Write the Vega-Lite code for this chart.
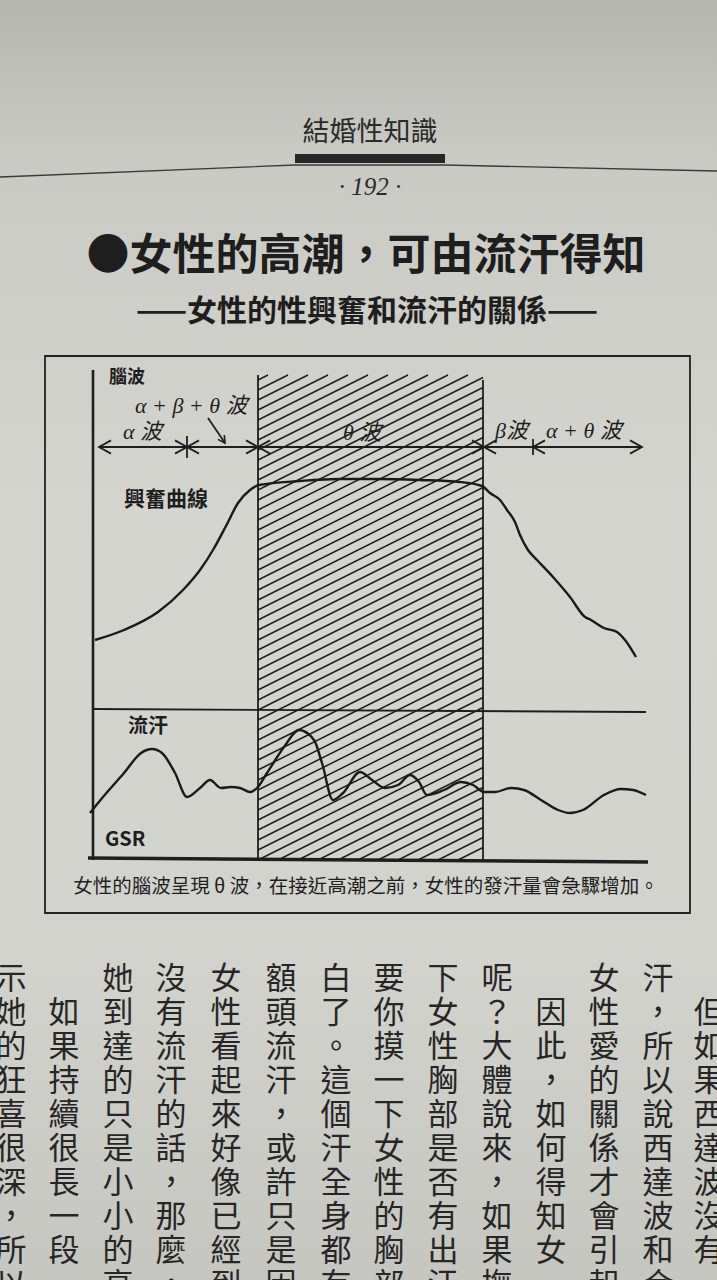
{
  "$schema": "https://vega.github.io/schema/vega-lite/v6.json",
  "width": 717,
  "height": 1280,
  "autosize": "none",
  "padding": 0,
  "background": "#cfcfca",
  "config": {"view": {"stroke": null}},
  "datasets": {
    "bg": [{"t": -18.6, "L": -84, "t2": 124.8, "L2": 172}],
    "hline": [
      {"t": -18.6, "L": 136.6}, {"t": 40.4, "L": 139}, {"t": 70.4, "L": 139}, {"t": 124.8, "L": 137.8}
    ],
    "hbar": [{"t": 40.4, "L": 141.2, "t2": 70.4, "L2": 139.4}],
    "frame": [{"t": -9.6, "L": 100.8, "t2": 119.4, "L2": -10.6}],
    "hatch": [
      {"t": 73, "L": 0, "t2": 78, "L2": 2.5}, {"t": 69, "L": 0, "t2": 78, "L2": 4.5},
      {"t": 65, "L": 0, "t2": 78, "L2": 6.5}, {"t": 61, "L": 0, "t2": 78, "L2": 8.5},
      {"t": 57, "L": 0, "t2": 78, "L2": 10.5}, {"t": 53, "L": 0, "t2": 78, "L2": 12.5},
      {"t": 49, "L": 0, "t2": 78, "L2": 14.5}, {"t": 45, "L": 0, "t2": 78, "L2": 16.5},
      {"t": 41, "L": 0, "t2": 78, "L2": 18.5}, {"t": 37, "L": 0, "t2": 78, "L2": 20.5},
      {"t": 33, "L": 0, "t2": 78, "L2": 22.5}, {"t": 33, "L": 2, "t2": 78, "L2": 24.5},
      {"t": 33, "L": 4, "t2": 78, "L2": 26.5}, {"t": 33, "L": 6, "t2": 78, "L2": 28.5},
      {"t": 33, "L": 8, "t2": 78, "L2": 30.5}, {"t": 33, "L": 10, "t2": 78, "L2": 32.5},
      {"t": 33, "L": 12, "t2": 78, "L2": 34.5}, {"t": 33, "L": 14, "t2": 78, "L2": 36.5},
      {"t": 33, "L": 16, "t2": 78, "L2": 38.5}, {"t": 33, "L": 18, "t2": 78, "L2": 40.5},
      {"t": 33, "L": 20, "t2": 78, "L2": 42.5}, {"t": 33, "L": 22, "t2": 78, "L2": 44.5},
      {"t": 33, "L": 24, "t2": 78, "L2": 46.5}, {"t": 33, "L": 26, "t2": 78, "L2": 48.5},
      {"t": 33, "L": 28, "t2": 78, "L2": 50.5}, {"t": 33, "L": 30, "t2": 78, "L2": 52.5},
      {"t": 33, "L": 32, "t2": 78, "L2": 54.5}, {"t": 33, "L": 34, "t2": 78, "L2": 56.5},
      {"t": 33, "L": 36, "t2": 78, "L2": 58.5}, {"t": 33, "L": 38, "t2": 78, "L2": 60.5},
      {"t": 33, "L": 40, "t2": 78, "L2": 62.5}, {"t": 33, "L": 42, "t2": 78, "L2": 64.5},
      {"t": 33, "L": 44, "t2": 78, "L2": 66.5}, {"t": 33, "L": 46, "t2": 78, "L2": 68.5},
      {"t": 33, "L": 48, "t2": 78, "L2": 70.5}, {"t": 33, "L": 50, "t2": 78, "L2": 72.5},
      {"t": 33, "L": 52, "t2": 78, "L2": 74.5}, {"t": 33, "L": 54, "t2": 78, "L2": 76.5},
      {"t": 33, "L": 56, "t2": 78, "L2": 78.5}, {"t": 33, "L": 58, "t2": 78, "L2": 80.5},
      {"t": 33, "L": 60, "t2": 78, "L2": 82.5}, {"t": 33, "L": 62, "t2": 78, "L2": 84.5},
      {"t": 33, "L": 64, "t2": 78, "L2": 86.5}, {"t": 33, "L": 66, "t2": 78, "L2": 88.5},
      {"t": 33, "L": 68, "t2": 78, "L2": 90.5}, {"t": 33, "L": 70, "t2": 78, "L2": 92.5},
      {"t": 33, "L": 72, "t2": 78, "L2": 94.5}, {"t": 33, "L": 74, "t2": 78, "L2": 96.5},
      {"t": 33, "L": 76, "t2": 75, "L2": 97}, {"t": 33, "L": 78, "t2": 71, "L2": 97},
      {"t": 33, "L": 80, "t2": 67, "L2": 97}, {"t": 33, "L": 82, "t2": 63, "L2": 97},
      {"t": 33, "L": 84, "t2": 59, "L2": 97}, {"t": 33, "L": 86, "t2": 55, "L2": 97},
      {"t": 33, "L": 88, "t2": 51, "L2": 97}, {"t": 33, "L": 90, "t2": 47, "L2": 97},
      {"t": 33, "L": 92, "t2": 43, "L2": 97}, {"t": 33, "L": 94, "t2": 39, "L2": 97},
      {"t": 33, "L": 96, "t2": 35, "L2": 97}
    ],
    "thin": [
      {"t": 33, "L": 0, "t2": 33, "L2": 97},
      {"t": 78, "L": 0, "t2": 78, "L2": 96},
      {"t": 0, "L": 30.2, "t2": 110.6, "L2": 29.6},
      {"t": 1.2, "L": 82.6, "t2": 109.8, "L2": 82.6},
      {"t": 18.8, "L": 80.4, "t2": 18.8, "L2": 84.8},
      {"t": 88, "L": 81, "t2": 88, "L2": 84.2},
      {"t": 23, "L": 88.4, "t2": 26.4, "L2": 83.4}
    ],
    "yaxis": [{"t": 0, "L": 0, "t2": 0, "L2": 98}],
    "baseline": [{"t": -1, "L": 0.4, "t2": 111, "L2": -0.4}],
    "arrows": [
      {"t": 1.2, "L": 82.6, "dir": "L"},
      {"t": 18.8, "L": 82.6, "dir": "R"}, {"t": 18.8, "L": 82.6, "dir": "L"},
      {"t": 33, "L": 82.6, "dir": "R"}, {"t": 33, "L": 82.6, "dir": "L"},
      {"t": 78.2, "L": 82.6, "dir": "R"}, {"t": 78.2, "L": 82.6, "dir": "L"},
      {"t": 88, "L": 82.6, "dir": "L"},
      {"t": 109.8, "L": 82.6, "dir": "R"}
    ],
    "pointer": [{"t": 26.4, "L": 83.4, "dir": "R"}],
    "curves": [
      {"series": "興奮曲線", "t": 0.4, "L": 44}, {"series": "興奮曲線", "t": 6.2, "L": 46},
      {"series": "興奮曲線", "t": 13, "L": 49.6}, {"series": "興奮曲線", "t": 18, "L": 54},
      {"series": "興奮曲線", "t": 21.4, "L": 58}, {"series": "興奮曲線", "t": 24, "L": 62},
      {"series": "興奮曲線", "t": 26.6, "L": 66.8}, {"series": "興奮曲線", "t": 29, "L": 71.4},
      {"series": "興奮曲線", "t": 31.4, "L": 74}, {"series": "興奮曲線", "t": 33.2, "L": 75},
      {"series": "興奮曲線", "t": 41.4, "L": 75.8}, {"series": "興奮曲線", "t": 49.4, "L": 76.2},
      {"series": "興奮曲線", "t": 56.8, "L": 76.2}, {"series": "興奮曲線", "t": 65.4, "L": 76},
      {"series": "興奮曲線", "t": 73.4, "L": 75.6}, {"series": "興奮曲線", "t": 77.8, "L": 74.8},
      {"series": "興奮曲線", "t": 79.4, "L": 73.4}, {"series": "興奮曲線", "t": 81.4, "L": 72},
      {"series": "興奮曲線", "t": 82.8, "L": 70}, {"series": "興奮曲線", "t": 84.4, "L": 67.6},
      {"series": "興奮曲線", "t": 85.4, "L": 65}, {"series": "興奮曲線", "t": 87, "L": 62},
      {"series": "興奮曲線", "t": 88.8, "L": 60}, {"series": "興奮曲線", "t": 92, "L": 56.6},
      {"series": "興奮曲線", "t": 95.4, "L": 52.6}, {"series": "興奮曲線", "t": 98.4, "L": 48.6},
      {"series": "興奮曲線", "t": 99.6, "L": 48}, {"series": "興奮曲線", "t": 102.2, "L": 46.4},
      {"series": "興奮曲線", "t": 104.8, "L": 45.6}, {"series": "興奮曲線", "t": 106.4, "L": 44},
      {"series": "興奮曲線", "t": 108.6, "L": 40.6},
      {"series": "GSR", "t": -0.6, "L": 9.4}, {"series": "GSR", "t": 2, "L": 12.6},
      {"series": "GSR", "t": 6.2, "L": 17.4}, {"series": "GSR", "t": 9.6, "L": 21.4},
      {"series": "GSR", "t": 11.8, "L": 22.2}, {"series": "GSR", "t": 13.8, "L": 21.4},
      {"series": "GSR", "t": 16.4, "L": 17.4}, {"series": "GSR", "t": 18.8, "L": 12.6},
      {"series": "GSR", "t": 21.4, "L": 14.4}, {"series": "GSR", "t": 23.4, "L": 16},
      {"series": "GSR", "t": 25.6, "L": 14.4}, {"series": "GSR", "t": 27.6, "L": 14.6},
      {"series": "GSR", "t": 29.4, "L": 14.4}, {"series": "GSR", "t": 31.4, "L": 13.6},
      {"series": "GSR", "t": 32.8, "L": 14.4}, {"series": "GSR", "t": 34.8, "L": 17.4},
      {"series": "GSR", "t": 38.2, "L": 22.6}, {"series": "GSR", "t": 41.2, "L": 26},
      {"series": "GSR", "t": 44.2, "L": 24}, {"series": "GSR", "t": 45.8, "L": 19.4},
      {"series": "GSR", "t": 48, "L": 12}, {"series": "GSR", "t": 50, "L": 13.4},
      {"series": "GSR", "t": 53.4, "L": 17.6}, {"series": "GSR", "t": 55.8, "L": 16},
      {"series": "GSR", "t": 58.4, "L": 14.4}, {"series": "GSR", "t": 61, "L": 15},
      {"series": "GSR", "t": 63.4, "L": 17}, {"series": "GSR", "t": 65.2, "L": 15.6},
      {"series": "GSR", "t": 66.8, "L": 13}, {"series": "GSR", "t": 70.2, "L": 14},
      {"series": "GSR", "t": 73.6, "L": 15.6}, {"series": "GSR", "t": 76, "L": 15},
      {"series": "GSR", "t": 78.2, "L": 13.6}, {"series": "GSR", "t": 80.4, "L": 13.6},
      {"series": "GSR", "t": 83.6, "L": 14.4}, {"series": "GSR", "t": 86.2, "L": 14},
      {"series": "GSR", "t": 89.6, "L": 12}, {"series": "GSR", "t": 93, "L": 10},
      {"series": "GSR", "t": 95.4, "L": 9.4}, {"series": "GSR", "t": 98, "L": 10},
      {"series": "GSR", "t": 102.2, "L": 13}, {"series": "GSR", "t": 105.6, "L": 14.2},
      {"series": "GSR", "t": 108, "L": 14}, {"series": "GSR", "t": 110.6, "L": 13}
    ],
    "boldLabels": [
      {"t": 3.2, "L": 96.4, "s": "腦波", "k": "small"},
      {"t": 6.2, "L": 72, "s": "興奮曲線", "k": "big"},
      {"t": 7, "L": 26.6, "s": "流汗", "k": "mid"},
      {"t": 2.4, "L": 4, "s": "GSR", "k": "mid"}
    ],
    "waveLabels": [
      {"t": 8.4, "L": 90.8, "s": "α + β + θ 波"},
      {"t": 6, "L": 85.6, "s": "α 波"},
      {"t": 50, "L": 85.4, "s": "θ 波"},
      {"t": 80.4, "L": 85.8, "s": "β波"},
      {"t": 90.6, "L": 85.8, "s": "α + θ 波"}
    ],
    "caption": [{"t": 54.6, "L": -5.4, "s": "女性的腦波呈現 θ 波，在接近高潮之前，女性的發汗量會急驟增加。"}],
    "runhead": [{"t": 55.4, "L": 145.4, "s": "結婚性知識"}],
    "folio": [{"t": 55.4, "L": 134.6, "s": "· 192 ·"}],
    "title": [{"t": 54.6, "L": 120.6, "s": "●女性的高潮，可由流汗得知"}],
    "subtitle": [{"t": 54.8, "L": 109.6, "s": "——女性的性興奮和流汗的關係——"}],
    "body": [
      {"t": 123.2, "L": -21, "s": "　\n　\n但\n如\n果\n西\n達\n波\n沒\n有"},
      {"t": 113, "L": -21, "s": "汗\n，\n所\n以\n說\n西\n達\n波\n和\n合"},
      {"t": 102.2, "L": -21, "s": "女\n性\n愛\n的\n關\n係\n才\n會\n引\n起"},
      {"t": 91.6, "L": -21, "s": "　\n　\n因\n此\n，\n如\n何\n得\n知\n女"},
      {"t": 80.8, "L": -21, "s": "呢\n？\n大\n體\n說\n來\n，\n如\n果\n撫"},
      {"t": 70, "L": -21, "s": "下\n女\n性\n胸\n部\n是\n否\n有\n出\n汗"},
      {"t": 59.2, "L": -21, "s": "要\n你\n摸\n一\n下\n女\n性\n的\n胸\n部"},
      {"t": 48.6, "L": -21, "s": "白\n了\n。\n這\n個\n汗\n全\n身\n都\n有"},
      {"t": 37.6, "L": -21, "s": "額\n頭\n流\n汗\n，\n或\n許\n只\n是\n因"},
      {"t": 26.6, "L": -21, "s": "女\n性\n看\n起\n來\n好\n像\n已\n經\n到"},
      {"t": 15.6, "L": -21, "s": "沒\n有\n流\n汗\n的\n話\n，\n那\n麼\n，"},
      {"t": 5, "L": -21, "s": "她\n到\n達\n的\n只\n是\n小\n小\n的\n高"},
      {"t": -5.8, "L": -21, "s": "　\n　\n如\n果\n持\n續\n很\n長\n一\n段"},
      {"t": -16.4, "L": -21, "s": "示\n她\n的\n狂\n喜\n很\n深\n，\n所\n以"}
    ]
  },
  "encoding": {
    "x": {"field": "t", "type": "quantitative", "scale": {"domain": [-18.6, 124.8], "nice": false, "zero": false}, "axis": null},
    "y": {"field": "L", "type": "quantitative", "scale": {"domain": [-84, 172], "nice": false, "zero": false}, "axis": null}
  },
  "layer": [
    {
      "data": {"name": "bg"},
      "mark": {"type": "rect", "clip": true, "color": {"gradient": "linear", "x1": 0, "y1": 0, "x2": 0, "y2": 1,
        "stops": [
          {"offset": 0, "color": "#b6b6b0"}, {"offset": 0.12, "color": "#cacac5"},
          {"offset": 0.4, "color": "#d5d5d0"}, {"offset": 0.75, "color": "#d3d3ce"},
          {"offset": 1, "color": "#c6c6c0"}]}},
      "encoding": {"x2": {"field": "t2"}, "y2": {"field": "L2"}}
    },
    {
      "data": {"name": "hline"},
      "mark": {"type": "line", "clip": true, "color": "#3a3a3a", "strokeWidth": 1.4},
      "encoding": {}
    },
    {
      "data": {"name": "hbar"},
      "mark": {"type": "rect", "color": "#262626"},
      "encoding": {"x2": {"field": "t2"}, "y2": {"field": "L2"}}
    },
    {
      "data": {"name": "runhead"},
      "mark": {"type": "text", "font": "Noto Sans CJK TC", "fontSize": 27, "color": "#2a2a2a", "align": "center", "baseline": "middle"},
      "encoding": {"text": {"field": "s"}}
    },
    {
      "data": {"name": "folio"},
      "mark": {"type": "text", "font": "Liberation Serif", "fontStyle": "italic", "fontSize": 25, "color": "#2a2a2a", "align": "center", "baseline": "middle"},
      "encoding": {"text": {"field": "s"}}
    },
    {
      "data": {"name": "title"},
      "mark": {"type": "text", "font": "Noto Sans CJK TC", "fontWeight": "bold", "fontSize": 43, "color": "#1e1e1e", "align": "center", "baseline": "middle"},
      "encoding": {"text": {"field": "s"}}
    },
    {
      "data": {"name": "subtitle"},
      "mark": {"type": "text", "font": "Noto Sans CJK TC", "fontWeight": "bold", "fontSize": 30, "color": "#1e1e1e", "align": "center", "baseline": "middle"},
      "encoding": {"text": {"field": "s"}}
    },
    {
      "data": {"name": "frame"},
      "mark": {"type": "rect", "fill": null, "fillOpacity": 0, "stroke": "#222222", "strokeWidth": 1.8},
      "encoding": {"x2": {"field": "t2"}, "y2": {"field": "L2"}}
    },
    {
      "data": {"name": "hatch"},
      "mark": {"type": "rule", "color": "#1e1e1e", "strokeWidth": 1.5},
      "encoding": {"x2": {"field": "t2"}, "y2": {"field": "L2"}}
    },
    {
      "data": {"name": "thin"},
      "mark": {"type": "rule", "color": "#1e1e1e", "strokeWidth": 1.8},
      "encoding": {"x2": {"field": "t2"}, "y2": {"field": "L2"}}
    },
    {
      "data": {"name": "yaxis"},
      "mark": {"type": "rule", "color": "#1e1e1e", "strokeWidth": 2.6},
      "encoding": {"x2": {"field": "t2"}, "y2": {"field": "L2"}}
    },
    {
      "data": {"name": "baseline"},
      "mark": {"type": "rule", "color": "#1e1e1e", "strokeWidth": 3.6},
      "encoding": {"x2": {"field": "t2"}, "y2": {"field": "L2"}}
    },
    {
      "data": {"name": "arrows"},
      "mark": {"type": "point", "filled": false, "color": "#1e1e1e", "strokeWidth": 1.8, "size": 576, "opacity": 1},
      "encoding": {
        "shape": {"field": "dir", "type": "nominal", "legend": null,
          "scale": {"domain": ["L", "R"], "range": ["M1,-0.55L0,0L1,0.55", "M-1,-0.55L0,0L-1,0.55"]}}
      }
    },
    {
      "data": {"name": "pointer"},
      "mark": {"type": "point", "filled": false, "color": "#1e1e1e", "strokeWidth": 1.6, "size": 196, "angle": 56, "opacity": 1},
      "encoding": {
        "shape": {"field": "dir", "type": "nominal", "legend": null}
      }
    },
    {
      "data": {"name": "curves"},
      "mark": {"type": "line", "interpolate": "monotone", "color": "#1a1a1a", "strokeWidth": 2.4},
      "encoding": {"detail": {"field": "series", "type": "nominal"}}
    },
    {
      "data": {"name": "boldLabels"},
      "transform": [{"filter": "datum.k === 'small'"}],
      "mark": {"type": "text", "font": "Noto Sans CJK TC", "fontWeight": "bold", "fontSize": 18, "color": "#1e1e1e", "align": "left", "baseline": "middle"},
      "encoding": {"text": {"field": "s"}}
    },
    {
      "data": {"name": "boldLabels"},
      "transform": [{"filter": "datum.k === 'big'"}],
      "mark": {"type": "text", "font": "Noto Sans CJK TC", "fontWeight": "bold", "fontSize": 21, "color": "#1e1e1e", "align": "left", "baseline": "middle"},
      "encoding": {"text": {"field": "s"}}
    },
    {
      "data": {"name": "boldLabels"},
      "transform": [{"filter": "datum.k === 'mid'"}],
      "mark": {"type": "text", "font": "Noto Sans CJK TC", "fontWeight": "bold", "fontSize": 20, "color": "#1e1e1e", "align": "left", "baseline": "middle"},
      "encoding": {"text": {"field": "s"}}
    },
    {
      "data": {"name": "waveLabels"},
      "mark": {"type": "text", "font": "Liberation Serif, Noto Sans CJK TC", "fontStyle": "italic", "fontSize": 22, "color": "#1e1e1e", "align": "left", "baseline": "middle"},
      "encoding": {"text": {"field": "s"}}
    },
    {
      "data": {"name": "caption"},
      "mark": {"type": "text", "font": "Noto Sans CJK TC", "fontSize": 19.5, "color": "#1e1e1e", "align": "center", "baseline": "middle"},
      "encoding": {"text": {"field": "s"}}
    },
    {
      "data": {"name": "body"},
      "mark": {"type": "text", "clip": true, "font": "Noto Sans CJK TC", "fontSize": 31, "lineHeight": 34, "lineBreak": "\n", "color": "#262626", "align": "center", "baseline": "top"},
      "encoding": {"text": {"field": "s"}}
    }
  ]
}
